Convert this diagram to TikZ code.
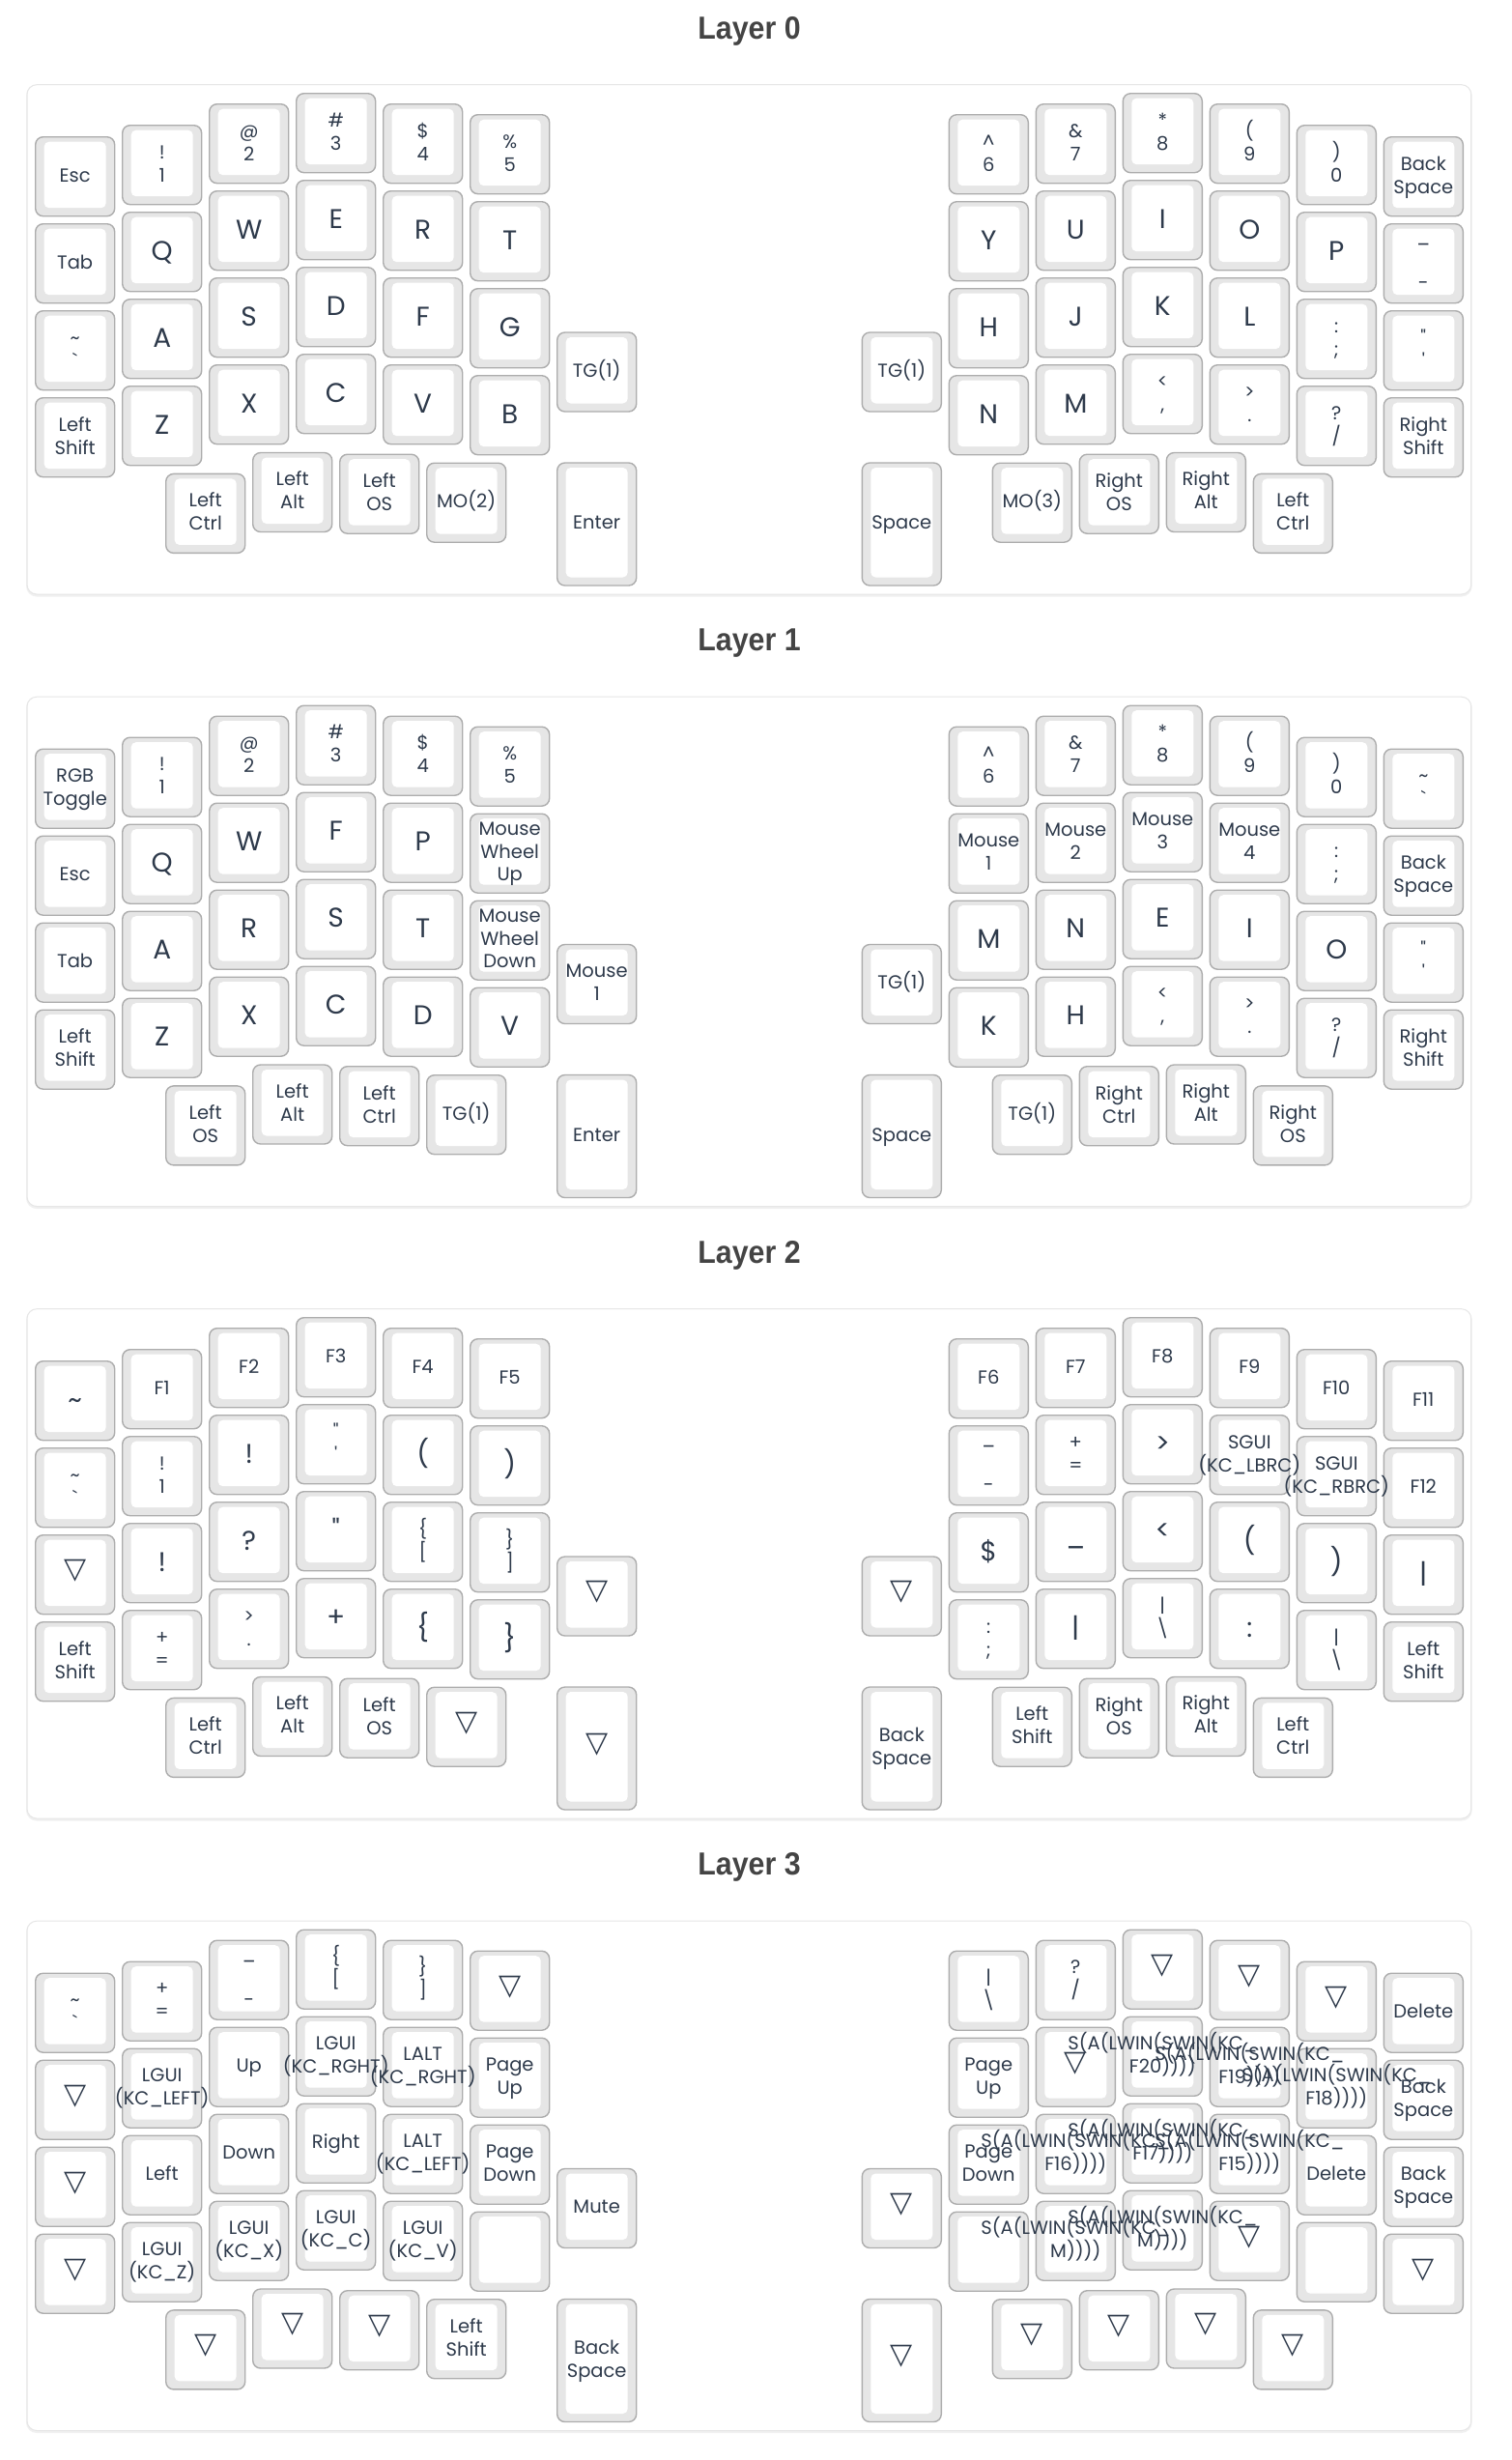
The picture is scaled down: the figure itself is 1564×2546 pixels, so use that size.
\documentclass[tikz,border=0pt]{standalone}
\usepackage{fontspec}
\newfontfamily\keyfont{Poppins}
\newfontfamily\symfont{DejaVu Sans}
\newfontfamily\titlefont[FakeStretch=0.92]{Liberation Sans}
\definecolor{txt}{HTML}{2E3A4B}
\definecolor{keyborder}{HTML}{ADADAD}
\definecolor{keyring}{HTML}{E6E6E6}
\definecolor{titlec}{HTML}{444444}
\definecolor{panelb}{HTML}{E6E6E6}
\definecolor{shadowc}{HTML}{F0F0F0}
\newcounter{kc}
\newif\ifdrawshell
\tikzset{
 keyout/.style={draw=keyborder, fill=keyring, line width=1.4pt, rounded corners=8pt},
 keyin/.style={fill=white, rounded corners=5pt},
 bigl/.style={anchor=base, inner sep=0pt, text=txt, font=\keyfont\fontsize{28}{30}\selectfont},
 smalll/.style={anchor=base, inner sep=0pt, text=txt, font=\keyfont\fontsize{19.5}{22}\selectfont},
 tril/.style={anchor=center, inner sep=0pt, text=txt, font=\symfont\fontsize{30}{32}\selectfont},
 panel/.style={fill=white, draw=panelb, line width=1pt, rounded corners=10pt},
 shadowp/.style={fill=shadowc, rounded corners=11pt},
 titlel/.style={anchor=base, inner sep=0pt, text=titlec, font=\titlefont\bfseries\fontsize{33}{36}\selectfont}
}
\newcommand\colx[1]{\ifcase#1 36.7\or 126.7\or 216.7\or 306.7\or 396.7\or 486.7\or 982.3\or 1072.3\or 1162.3\or 1252.3\or 1342.3\or 1432.3\fi}
\newcommand\coly[1]{\ifcase#1 141.7\or 129.7\or 107.7\or 96.7\or 107.7\or 118.7\or 118.7\or 107.7\or 96.7\or 107.7\or 129.7\or 141.7\fi}
\newcommand\keyshell[3]{%
  \pgfmathsetmacro\kxa{#1+9}%
  \pgfmathsetmacro\kya{#2+5}%
  \pgfmathsetmacro\kxb{#1+73}%
  \pgfmathsetmacro\kyb{#2+#3-8.5}%
  \pgfmathsetmacro\kxe{#1+82}%
  \pgfmathsetmacro\kye{#2+#3}%
  \ifdrawshell
  \path[keyout] (#1,#2) rectangle (\kxe,\kye);%
  \path[keyin] (\kxa,\kya) rectangle (\kxb,\kyb);%
  \fi
  \pgfmathsetmacro\kcx{#1+41}%
  \pgfmathsetmacro\kcy{#2+(#3-82)/2+39.5}}
\newcommand\kG[3]{\edef\gx{\colx{#1}}\edef\gy{\coly{#1}}\pgfmathsetmacro\gyy{\gy+90*#2}\keyshell{\gx}{\gyy}{82}#3}
\newcommand\Kx[4][82]{\keyshell{#2}{#3}{#1}#4}
\newcommand\lab[3]{\ifdrawshell\else\stepcounter{kc}\node[#1] (n\arabic{kc}) at ({\kcx},{\kcy+(#2)}) {#3};\fi}
\newcommand\kB[1]{\lab{bigl}{9.8}{#1}}
\newcommand\kS[1]{\lab{smalll}{6.8}{#1}}
\newcommand\kT[2]{\lab{smalll}{-5.2}{#1}\lab{smalll}{18.8}{#2}}
\newcommand\kH[3]{\lab{smalll}{-17.2}{#1}\lab{smalll}{6.3}{#2}\lab{smalll}{29.8}{#3}}
\newcommand\kV{\lab{tril}{-2.5}{▽}}
\newcommand\kU{\lab{smalll}{-19.5}{\_}\lab{smalll}{28.3}{-}}
\newcommand\kBU{\lab{bigl}{5.5}{\_}}
\newcommand\kN{}
\newcommand\LTC[1]{\Kx{576.7}{344}{#1}}
\newcommand\LEN[1]{\Kx[127]{576.7}{479}{#1}}
\newcommand\LTa[1]{\Kx{171.7}{490.4}{#1}}
\newcommand\LTb[1]{\Kx{261.7}{468.5}{#1}}
\newcommand\LTcc[1]{\Kx{351.7}{470.2}{#1}}
\newcommand\LTd[1]{\Kx{441.7}{479.2}{#1}}
\newcommand\RTC[1]{\Kx{892.3}{344}{#1}}
\newcommand\REN[1]{\Kx[127]{892.3}{479}{#1}}
\newcommand\RTa[1]{\Kx{1027.3}{479.2}{#1}}
\newcommand\RTb[1]{\Kx{1117.3}{470.2}{#1}}
\newcommand\RTc[1]{\Kx{1207.3}{468.5}{#1}}
\newcommand\RTd[1]{\Kx{1297.3}{490.4}{#1}}
\newcommand\panelbox{\path[shadowp] (27,88) rectangle (1523.7,617.5);\path[panel] (28,87.7) rectangle (1522.7,615);}
\newcommand\twopass[1]{\drawshelltrue #1\drawshellfalse #1}
% ---------------- Layer 0
\newcommand\layerzero{%
\kG{0}{0}{\kS{Esc}}
\kG{1}{0}{\kT{!}{1}}
\kG{2}{0}{\kT{@}{2}}
\kG{3}{0}{\kT{\#}{3}}
\kG{4}{0}{\kT{\$}{4}}
\kG{5}{0}{\kT{\%}{5}}
\kG{0}{1}{\kS{Tab}}
\kG{1}{1}{\kB{Q}}
\kG{2}{1}{\kB{W}}
\kG{3}{1}{\kB{E}}
\kG{4}{1}{\kB{R}}
\kG{5}{1}{\kB{T}}
\kG{0}{2}{\kT{\textasciitilde}{\textasciigrave}}
\kG{1}{2}{\kB{A}}
\kG{2}{2}{\kB{S}}
\kG{3}{2}{\kB{D}}
\kG{4}{2}{\kB{F}}
\kG{5}{2}{\kB{G}}
\kG{0}{3}{\kT{Left}{Shift}}
\kG{1}{3}{\kB{Z}}
\kG{2}{3}{\kB{X}}
\kG{3}{3}{\kB{C}}
\kG{4}{3}{\kB{V}}
\kG{5}{3}{\kB{B}}
\LTC{\kS{TG(1)}}
\LEN{\kS{Enter}}
\LTa{\kT{Left}{Ctrl}}
\LTb{\kT{Left}{Alt}}
\LTcc{\kT{Left}{OS}}
\LTd{\kS{MO(2)}}
\kG{6}{0}{\kT{\textasciicircum}{6}}
\kG{7}{0}{\kT{\&}{7}}
\kG{8}{0}{\kT{*}{8}}
\kG{9}{0}{\kT{(}{9}}
\kG{10}{0}{\kT{)}{0}}
\kG{11}{0}{\kT{Back}{Space}}
\kG{6}{1}{\kB{Y}}
\kG{7}{1}{\kB{U}}
\kG{8}{1}{\kB{I}}
\kG{9}{1}{\kB{O}}
\kG{10}{1}{\kB{P}}
\kG{11}{1}{\kU}
\kG{6}{2}{\kB{H}}
\kG{7}{2}{\kB{J}}
\kG{8}{2}{\kB{K}}
\kG{9}{2}{\kB{L}}
\kG{10}{2}{\kT{:}{;}}
\kG{11}{2}{\kT{\textquotedbl}{\textquotesingle}}
\kG{6}{3}{\kB{N}}
\kG{7}{3}{\kB{M}}
\kG{8}{3}{\kT{<}{,}}
\kG{9}{3}{\kT{>}{.}}
\kG{10}{3}{\kT{?}{/}}
\kG{11}{3}{\kT{Right}{Shift}}
\RTC{\kS{TG(1)}}
\REN{\kS{Space}}
\RTa{\kS{MO(3)}}
\RTb{\kT{Right}{OS}}
\RTc{\kT{Right}{Alt}}
\RTd{\kT{Left}{Ctrl}}
}
% ---------------- Layer 1
\newcommand\layerone{%
\kG{0}{0}{\kT{RGB}{Toggle}}
\kG{1}{0}{\kT{!}{1}}
\kG{2}{0}{\kT{@}{2}}
\kG{3}{0}{\kT{\#}{3}}
\kG{4}{0}{\kT{\$}{4}}
\kG{5}{0}{\kT{\%}{5}}
\kG{0}{1}{\kS{Esc}}
\kG{1}{1}{\kB{Q}}
\kG{2}{1}{\kB{W}}
\kG{3}{1}{\kB{F}}
\kG{4}{1}{\kB{P}}
\kG{5}{1}{\kH{Mouse}{Wheel}{Up}}
\kG{0}{2}{\kS{Tab}}
\kG{1}{2}{\kB{A}}
\kG{2}{2}{\kB{R}}
\kG{3}{2}{\kB{S}}
\kG{4}{2}{\kB{T}}
\kG{5}{2}{\kH{Mouse}{Wheel}{Down}}
\kG{0}{3}{\kT{Left}{Shift}}
\kG{1}{3}{\kB{Z}}
\kG{2}{3}{\kB{X}}
\kG{3}{3}{\kB{C}}
\kG{4}{3}{\kB{D}}
\kG{5}{3}{\kB{V}}
\LTC{\kT{Mouse}{1}}
\LEN{\kS{Enter}}
\LTa{\kT{Left}{OS}}
\LTb{\kT{Left}{Alt}}
\LTcc{\kT{Left}{Ctrl}}
\LTd{\kS{TG(1)}}
\kG{6}{0}{\kT{\textasciicircum}{6}}
\kG{7}{0}{\kT{\&}{7}}
\kG{8}{0}{\kT{*}{8}}
\kG{9}{0}{\kT{(}{9}}
\kG{10}{0}{\kT{)}{0}}
\kG{11}{0}{\kT{\textasciitilde}{\textasciigrave}}
\kG{6}{1}{\kT{Mouse}{1}}
\kG{7}{1}{\kT{Mouse}{2}}
\kG{8}{1}{\kT{Mouse}{3}}
\kG{9}{1}{\kT{Mouse}{4}}
\kG{10}{1}{\kT{:}{;}}
\kG{11}{1}{\kT{Back}{Space}}
\kG{6}{2}{\kB{M}}
\kG{7}{2}{\kB{N}}
\kG{8}{2}{\kB{E}}
\kG{9}{2}{\kB{I}}
\kG{10}{2}{\kB{O}}
\kG{11}{2}{\kT{\textquotedbl}{\textquotesingle}}
\kG{6}{3}{\kB{K}}
\kG{7}{3}{\kB{H}}
\kG{8}{3}{\kT{<}{,}}
\kG{9}{3}{\kT{>}{.}}
\kG{10}{3}{\kT{?}{/}}
\kG{11}{3}{\kT{Right}{Shift}}
\RTC{\kS{TG(1)}}
\REN{\kS{Space}}
\RTa{\kS{TG(1)}}
\RTb{\kT{Right}{Ctrl}}
\RTc{\kT{Right}{Alt}}
\RTd{\kT{Right}{OS}}
}
% ---------------- Layer 2
\newcommand\layertwo{%
\kG{0}{0}{\kB{\textasciitilde}}
\kG{1}{0}{\kS{F1}}
\kG{2}{0}{\kS{F2}}
\kG{3}{0}{\kS{F3}}
\kG{4}{0}{\kS{F4}}
\kG{5}{0}{\kS{F5}}
\kG{0}{1}{\kT{\textasciitilde}{\textasciigrave}}
\kG{1}{1}{\kT{!}{1}}
\kG{2}{1}{\kB{!}}
\kG{3}{1}{\kT{\textquotedbl}{\textquotesingle}}
\kG{4}{1}{\kB{(}}
\kG{5}{1}{\kB{)}}
\kG{0}{2}{\kV}
\kG{1}{2}{\kB{!}}
\kG{2}{2}{\kB{?}}
\kG{3}{2}{\kB{\textquotedbl}}
\kG{4}{2}{\kT{\{}{[}}
\kG{5}{2}{\kT{\}}{]}}
\kG{0}{3}{\kT{Left}{Shift}}
\kG{1}{3}{\kT{+}{=}}
\kG{2}{3}{\kT{>}{.}}
\kG{3}{3}{\kB{+}}
\kG{4}{3}{\kB{\{}}
\kG{5}{3}{\kB{\}}}
\LTC{\kV}
\LEN{\kV}
\LTa{\kT{Left}{Ctrl}}
\LTb{\kT{Left}{Alt}}
\LTcc{\kT{Left}{OS}}
\LTd{\kV}
\kG{6}{0}{\kS{F6}}
\kG{7}{0}{\kS{F7}}
\kG{8}{0}{\kS{F8}}
\kG{9}{0}{\kS{F9}}
\kG{10}{0}{\kS{F10}}
\kG{11}{0}{\kS{F11}}
\kG{6}{1}{\kU}
\kG{7}{1}{\kT{+}{=}}
\kG{8}{1}{\kB{>}}
\kG{9}{1}{\kT{SGUI}{(KC\_LBRC)}}
\kG{10}{1}{\kT{SGUI}{(KC\_RBRC)}}
\kG{11}{1}{\kS{F12}}
\kG{6}{2}{\kB{\$}}
\kG{7}{2}{\kBU}
\kG{8}{2}{\kB{<}}
\kG{9}{2}{\kB{(}}
\kG{10}{2}{\kB{)}}
\kG{11}{2}{\kB{\textbar}}
\kG{6}{3}{\kT{:}{;}}
\kG{7}{3}{\kB{\textbar}}
\kG{8}{3}{\kT{\textbar}{\textbackslash}}
\kG{9}{3}{\kB{:}}
\kG{10}{3}{\kT{\textbar}{\textbackslash}}
\kG{11}{3}{\kT{Left}{Shift}}
\RTC{\kV}
\REN{\kT{Back}{Space}}
\RTa{\kT{Left}{Shift}}
\RTb{\kT{Right}{OS}}
\RTc{\kT{Right}{Alt}}
\RTd{\kT{Left}{Ctrl}}
}
% ---------------- Layer 3
\newcommand\layerthree{%
\kG{0}{0}{\kT{\textasciitilde}{\textasciigrave}}
\kG{1}{0}{\kT{+}{=}}
\kG{2}{0}{\kU}
\kG{3}{0}{\kT{\{}{[}}
\kG{4}{0}{\kT{\}}{]}}
\kG{5}{0}{\kV}
\kG{0}{1}{\kV}
\kG{1}{1}{\kT{LGUI}{(KC\_LEFT)}}
\kG{2}{1}{\kS{Up}}
\kG{3}{1}{\kT{LGUI}{(KC\_RGHT)}}
\kG{4}{1}{\kT{LALT}{(KC\_RGHT)}}
\kG{5}{1}{\kT{Page}{Up}}
\kG{0}{2}{\kV}
\kG{1}{2}{\kS{Left}}
\kG{2}{2}{\kS{Down}}
\kG{3}{2}{\kS{Right}}
\kG{4}{2}{\kT{LALT}{(KC\_LEFT)}}
\kG{5}{2}{\kT{Page}{Down}}
\kG{0}{3}{\kV}
\kG{1}{3}{\kT{LGUI}{(KC\_Z)}}
\kG{2}{3}{\kT{LGUI}{(KC\_X)}}
\kG{3}{3}{\kT{LGUI}{(KC\_C)}}
\kG{4}{3}{\kT{LGUI}{(KC\_V)}}
\kG{5}{3}{\kN}
\LTC{\kS{Mute}}
\LEN{\kT{Back}{Space}}
\LTa{\kV}
\LTb{\kV}
\LTcc{\kV}
\LTd{\kT{Left}{Shift}}
\kG{6}{0}{\kT{\textbar}{\textbackslash}}
\kG{7}{0}{\kT{?}{/}}
\kG{8}{0}{\kV}
\kG{9}{0}{\kV}
\kG{10}{0}{\kV}
\kG{11}{0}{\kS{Delete}}
\kG{6}{1}{\kT{Page}{Up}}
\kG{7}{1}{\kV}
\kG{8}{1}{\kT{S(A(LWIN(SWIN(KC\_}{F20))))}}
\kG{9}{1}{\kT{S(A(LWIN(SWIN(KC\_}{F19))))}}
\kG{10}{1}{\kT{S(A(LWIN(SWIN(KC\_}{F18))))}}
\kG{11}{1}{\kT{Back}{Space}}
\kG{6}{2}{\kT{Page}{Down}}
\kG{7}{2}{\kT{S(A(LWIN(SWIN(KC\_}{F16))))}}
\kG{8}{2}{\kT{S(A(LWIN(SWIN(KC\_}{F17))))}}
\kG{9}{2}{\kT{S(A(LWIN(SWIN(KC\_}{F15))))}}
\kG{10}{2}{\kS{Delete}}
\kG{11}{2}{\kT{Back}{Space}}
\kG{6}{3}{\kN}
\kG{7}{3}{\kT{S(A(LWIN(SWIN(KC\_}{M))))}}
\kG{8}{3}{\kT{S(A(LWIN(SWIN(KC\_}{M))))}}
\kG{9}{3}{\kV}
\kG{10}{3}{\kN}
\kG{11}{3}{\kV}
\RTC{\kV}
\REN{\kV}
\RTa{\kV}
\RTb{\kV}
\RTc{\kV}
\RTd{\kV}
}
\begin{document}
\begin{tikzpicture}[x=1pt,y=-1pt]
\useasboundingbox (0,0) rectangle (1564,2546);
\fill[white] (0,0) rectangle (1564,2546);
\begin{scope}
\node[titlel] (title0) at (775.5,40) {Layer 0};
\panelbox
\twopass{\layerzero}
\end{scope}
\begin{scope}[shift={(0,633.5)}]
\node[titlel] (title1) at (775.5,40) {Layer 1};
\panelbox
\twopass{\layerone}
\end{scope}
\begin{scope}[shift={(0,1267)}]
\node[titlel] (title2) at (775.5,40) {Layer 2};
\panelbox
\twopass{\layertwo}
\end{scope}
\begin{scope}[shift={(0,1900.5)}]
\node[titlel] (title3) at (775.5,40) {Layer 3};
\panelbox
\twopass{\layerthree}
\end{scope}
\end{tikzpicture}
\end{document}
